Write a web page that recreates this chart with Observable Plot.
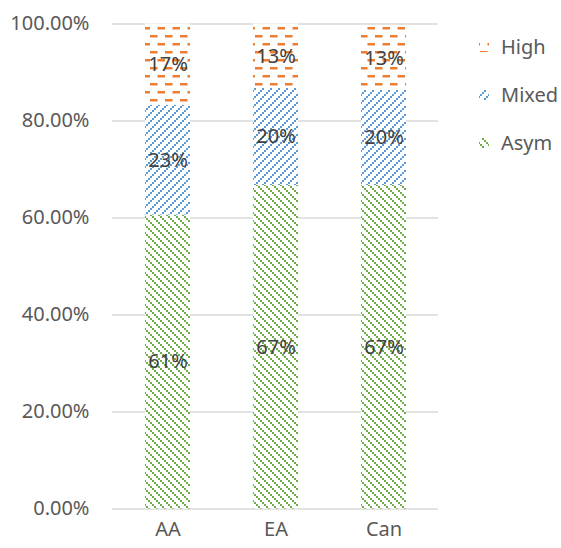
<!DOCTYPE html>
<html>
<head>
<meta charset="utf-8">
<script src="https://cdn.jsdelivr.net/npm/d3@7"></script>
<script src="https://cdn.jsdelivr.net/npm/@observablehq/plot@0.6"></script>
<style>
  html, body { margin: 0; padding: 0; background: #fff; }
  #chart { width: 561px; height: 548px; }
</style>
</head>
<body>
<div id="chart"></div>
<script>
// Groups along the x axis
const groups = ["AA", "EA", "Can"];
// Series, bottom to top of each stack
const series = ["Asym", "Mixed", "High"];
// Share of each series per group (same order as groups)
const asym  = [0.606, 0.667, 0.667];
const mixed = [0.226, 0.200, 0.196];
const high  = [0.168, 0.133, 0.130];
// Y axis ticks
const yTicks = [0, 0.2, 0.4, 0.6, 0.8, 1.0];
// Legend order (top to bottom)
const legendOrder = ["High", "Mixed", "Asym"];

const valuesBySeries = { Asym: asym, Mixed: mixed, High: high };
const rows = [];
for (const s of series) {
  groups.forEach((g, i) => rows.push({ group: g, series: s, value: valuesBySeries[s][i] }));
}

const patternId = { Asym: "pat-asym", Mixed: "pat-mixed", High: "pat-high" };
const fontFamily = "'Noto Sans', 'Open Sans', sans-serif";
const gridColor = "#d9d9d9";

const svg = Plot.plot({
  width: 561,
  height: 548,
  marginLeft: 112,
  marginRight: 123,
  marginTop: 23.5,
  marginBottom: 39.5,
  style: { fontFamily, fontSize: "20px", color: "#595959", background: "#fff", overflow: "visible" },
  x: { domain: groups, paddingInner: 0.586, paddingOuter: 0.293, label: null },
  y: { domain: [0, 1], label: null },
  color: { domain: series, range: series.map(s => `url(#${patternId[s]})`) },
  marks: [
    Plot.ruleY(yTicks, { stroke: gridColor, strokeWidth: 1.5 }),
    Plot.axisY({ ticks: yTicks, tickFormat: d3.format(".2%"), tickSize: 0, tickPadding: 23, fill: "#595959" }),
    Plot.axisX({ tickSize: 0, tickPadding: 13, fill: "#595959" }),
    Plot.barY(rows, Plot.stackY({ x: "group", y: "value", z: "series", fill: "series" })),
    Plot.text(rows, Plot.stackY({
      x: "group", y: "value", z: "series",
      text: d => Math.round(d.value * 100) + "%",
      fill: "#404040", fontSize: 20
    }))
  ]
});

// Fill patterns for the bars and legend swatches
const defs = d3.select(svg).insert("defs", ":first-child");

// High: staggered horizontal dashes
const pHigh = defs.append("pattern").attr("id", "pat-high")
  .attr("patternUnits", "userSpaceOnUse").attr("width", 15).attr("height", 16);
pHigh.append("rect").attr("width", 15).attr("height", 16).attr("fill", "#fff");
pHigh.append("rect").attr("x", 0).attr("y", 3).attr("width", 7.5).attr("height", 2.5).attr("fill", "#ED7D31");
pHigh.append("rect").attr("x", 7.5).attr("y", 11).attr("width", 7.5).attr("height", 2.5).attr("fill", "#ED7D31");

// Mixed: dotted upward diagonals
const pMixed = defs.append("pattern").attr("id", "pat-mixed")
  .attr("patternUnits", "userSpaceOnUse").attr("width", 8).attr("height", 8);
pMixed.append("rect").attr("width", 8).attr("height", 8).attr("fill", "#fff");
for (const [x, y] of [[6, 0], [4, 2], [2, 4], [0, 6]]) {
  pMixed.append("rect").attr("x", x).attr("y", y).attr("width", 2).attr("height", 2).attr("fill", "#5B9BD5");
}

// Asym: dotted downward diagonals
const pAsym = defs.append("pattern").attr("id", "pat-asym")
  .attr("patternUnits", "userSpaceOnUse").attr("width", 8).attr("height", 8);
pAsym.append("rect").attr("width", 8).attr("height", 8).attr("fill", "#fff");
for (const [x, y] of [[0, 0], [2, 2], [4, 4], [6, 6]]) {
  pAsym.append("rect").attr("x", x).attr("y", y).attr("width", 2).attr("height", 2).attr("fill", "#70AD47");
}

// Legend on the right
const legend = d3.select(svg).append("g")
  .attr("font-family", fontFamily).attr("font-size", 20)
  .attr("fill", "#595959").attr("text-anchor", "start");
legendOrder.forEach((s, i) => {
  const cy = 47 + i * 48;
  legend.append("rect")
    .attr("x", 479).attr("y", cy - 5).attr("width", 10).attr("height", 10)
    .attr("fill", `url(#${patternId[s]})`);
  legend.append("text")
    .attr("x", 501).attr("y", cy).attr("dy", "0.35em").text(s);
});

document.getElementById("chart").appendChild(svg);
</script>
</body>
</html>
